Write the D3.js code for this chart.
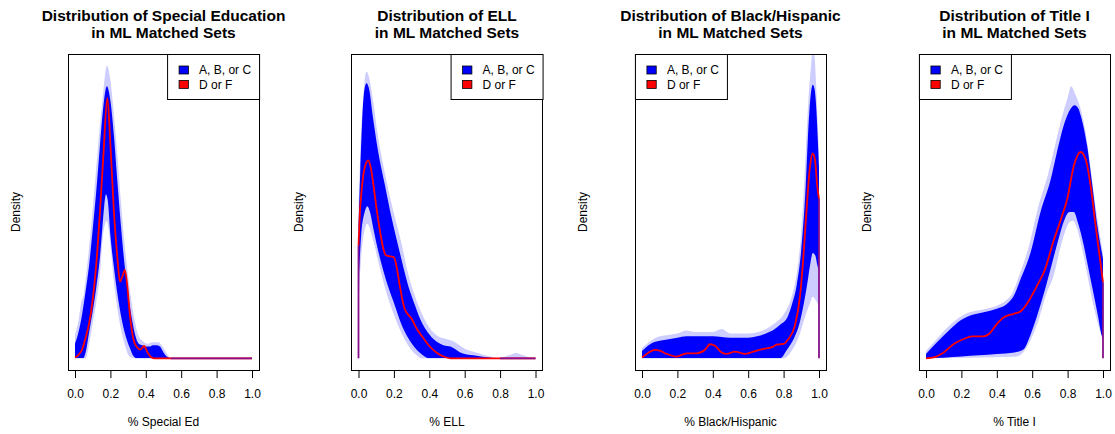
<!doctype html>
<html>
<head>
<meta charset="utf-8">
<script src="https://cdn.jsdelivr.net/npm/d3@7"></script>
<style>
  body { margin: 0; background: #fff; }
  svg { display: block; font-family: "Liberation Sans", Arial, Helvetica, sans-serif; }
</style>
</head>
<body>
<script>
// density values are relative (fraction of the y range); y axis has no ticks
// each series is a list of [share, density]

// --- Special Education
var seHaloHi = [[0,0.08],[0.02,0.13],[0.035,0.19],[0.05,0.22],[0.06,0.27],[0.08,0.38],[0.10,0.51],[0.12,0.65],[0.14,0.79],[0.16,0.91],[0.18,1.0],[0.20,0.95],[0.22,0.83],[0.24,0.69],[0.26,0.53],[0.28,0.39],[0.30,0.28],[0.32,0.19],[0.34,0.12],[0.36,0.075],[0.38,0.06],[0.41,0.05],[0.44,0.055],[0.47,0.055],[0.50,0.035],[0.52,0.015],[0.55,0],[1,0]];
var seCoreHi = [[0,0.05],[0.02,0.09],[0.04,0.15],[0.06,0.23],[0.08,0.32],[0.10,0.44],[0.12,0.57],[0.14,0.72],[0.16,0.86],[0.18,0.93],[0.20,0.88],[0.22,0.76],[0.24,0.60],[0.26,0.45],[0.28,0.32],[0.30,0.22],[0.32,0.14],[0.34,0.08],[0.36,0.05],[0.38,0.045],[0.40,0.04],[0.42,0.04],[0.44,0.045],[0.46,0.045],[0.48,0.04],[0.50,0.02],[0.52,0.005],[0.54,0],[1,0]];
var seCoreLo = [[0,0],[0.045,0],[0.06,0.02],[0.08,0.09],[0.10,0.16],[0.12,0.24],[0.14,0.34],[0.155,0.45],[0.165,0.52],[0.175,0.56],[0.185,0.54],[0.20,0.42],[0.22,0.31],[0.25,0.18],[0.28,0.09],[0.31,0.035],[0.33,0.008],[0.35,0],[1,0]];
var seHaloLo = [[0,0],[0.06,0],[0.08,0.05],[0.10,0.12],[0.12,0.19],[0.14,0.28],[0.155,0.40],[0.17,0.46],[0.18,0.47],[0.19,0.44],[0.22,0.26],[0.25,0.13],[0.28,0.05],[0.31,0.005],[0.34,0],[1,0]];
var seRed = [[0,0.003],[0.02,0.012],[0.04,0.03],[0.06,0.07],[0.08,0.12],[0.10,0.20],[0.12,0.32],[0.14,0.49],[0.16,0.69],[0.183,0.89],[0.20,0.73],[0.22,0.50],[0.24,0.34],[0.254,0.262],[0.268,0.28],[0.282,0.302],[0.295,0.25],[0.31,0.15],[0.33,0.065],[0.35,0.038],[0.37,0.03],[0.39,0.042],[0.41,0.02],[0.43,0.004],[0.45,0],[1,0]];

// --- ELL
var ellHaloHi = [[0,0.50],[0.01,0.70],[0.025,0.88],[0.035,0.95],[0.045,0.98],[0.06,0.96],[0.08,0.89],[0.11,0.76],[0.15,0.63],[0.19,0.52],[0.24,0.40],[0.28,0.29],[0.32,0.21],[0.36,0.15],[0.40,0.105],[0.45,0.075],[0.50,0.065],[0.53,0.06],[0.60,0.033],[0.65,0.022],[0.70,0.013],[0.75,0.005],[0.80,0.002],[0.85,0.01],[0.89,0.018],[0.93,0.01],[0.97,0.002],[1,0]];
var ellCoreHi = [[0,0.45],[0.01,0.64],[0.02,0.80],[0.03,0.90],[0.045,0.94],[0.06,0.92],[0.08,0.83],[0.11,0.71],[0.15,0.59],[0.187,0.48],[0.234,0.36],[0.28,0.25],[0.32,0.18],[0.348,0.135],[0.405,0.078],[0.48,0.045],[0.52,0.04],[0.575,0.02],[0.65,0.01],[0.75,0.002],[0.8,0],[1,0]];
var ellCoreLo = [[0,0.25],[0.015,0.42],[0.035,0.50],[0.05,0.52],[0.065,0.50],[0.085,0.44],[0.11,0.37],[0.14,0.30],[0.17,0.24],[0.20,0.19],[0.24,0.12],[0.28,0.07],[0.32,0.035],[0.36,0.012],[0.40,0],[1,0]];
var ellHaloLo = [[0,0.18],[0.02,0.38],[0.05,0.46],[0.08,0.41],[0.12,0.31],[0.16,0.22],[0.20,0.15],[0.24,0.09],[0.28,0.045],[0.32,0.015],[0.36,0],[1,0]];
var ellRed = [[0,0.385],[0.008,0.50],[0.017,0.57],[0.036,0.655],[0.055,0.676],[0.07,0.65],[0.085,0.59],[0.10,0.52],[0.12,0.44],[0.14,0.375],[0.155,0.352],[0.18,0.348],[0.20,0.345],[0.216,0.31],[0.234,0.245],[0.26,0.17],[0.30,0.135],[0.33,0.10],[0.365,0.07],[0.40,0.042],[0.44,0.02],[0.48,0.006],[0.52,0],[1,0]];

// --- Black/Hispanic
var bhHaloHi = [[0,0.035],[0.05,0.06],[0.10,0.075],[0.15,0.08],[0.20,0.085],[0.25,0.095],[0.30,0.09],[0.40,0.09],[0.45,0.10],[0.50,0.085],[0.60,0.085],[0.70,0.10],[0.75,0.12],[0.80,0.15],[0.85,0.22],[0.874,0.29],[0.898,0.42],[0.92,0.64],[0.94,0.88],[0.955,1.0],[0.965,1.06],[0.975,1.03],[0.985,0.92],[0.993,0.80],[1,0.70]];
var bhCoreHi = [[0,0.025],[0.05,0.05],[0.10,0.06],[0.15,0.065],[0.20,0.07],[0.25,0.075],[0.30,0.075],[0.40,0.075],[0.50,0.07],[0.60,0.07],[0.65,0.075],[0.70,0.085],[0.75,0.10],[0.78,0.115],[0.817,0.135],[0.845,0.18],[0.874,0.25],[0.898,0.36],[0.925,0.59],[0.943,0.82],[0.955,0.91],[0.965,0.935],[0.975,0.92],[0.985,0.85],[0.993,0.75],[1,0.65]];
var bhCoreLo = [[0,0],[0.78,0],[0.82,0.03],[0.86,0.07],[0.89,0.12],[0.915,0.19],[0.935,0.26],[0.95,0.32],[0.965,0.36],[0.98,0.35],[0.99,0.32],[1,0.30]];
var bhHaloLo = [[0,0],[0.80,0],[0.85,0.03],[0.89,0.08],[0.92,0.14],[0.95,0.19],[0.965,0.21],[0.98,0.20],[1,0.18]];
var bhRed = [[0,0.003],[0.035,0.018],[0.073,0.029],[0.10,0.026],[0.14,0.015],[0.196,0.006],[0.252,0.017],[0.309,0.017],[0.356,0.029],[0.384,0.048],[0.412,0.043],[0.45,0.02],[0.478,0.015],[0.525,0.023],[0.582,0.015],[0.629,0.023],[0.686,0.032],[0.742,0.04],[0.76,0.047],[0.80,0.049],[0.827,0.066],[0.864,0.112],[0.893,0.214],[0.911,0.34],[0.93,0.51],[0.949,0.655],[0.964,0.70],[0.977,0.68],[0.99,0.59],[1,0.545]];

// --- Title I
var tiHaloHi = [[0,0.025],[0.06,0.065],[0.13,0.11],[0.19,0.14],[0.25,0.158],[0.33,0.168],[0.40,0.18],[0.45,0.197],[0.49,0.225],[0.525,0.28],[0.58,0.38],[0.635,0.52],[0.69,0.63],[0.73,0.73],[0.77,0.83],[0.80,0.89],[0.82,0.93],[0.845,0.90],[0.87,0.86],[0.90,0.78],[0.93,0.65],[0.96,0.51],[1,0.36]];
var tiCoreHi = [[0,0.015],[0.062,0.055],[0.138,0.10],[0.194,0.129],[0.25,0.146],[0.326,0.157],[0.40,0.169],[0.458,0.186],[0.496,0.214],[0.534,0.27],[0.59,0.36],[0.647,0.50],[0.704,0.61],[0.74,0.705],[0.78,0.80],[0.817,0.853],[0.84,0.865],[0.86,0.855],[0.874,0.83],[0.91,0.727],[0.94,0.59],[0.968,0.454],[1,0.34]];
var tiCoreLo = [[0,0],[0.10,0.002],[0.20,0.006],[0.30,0.01],[0.40,0.015],[0.50,0.02],[0.55,0.03],[0.59,0.08],[0.63,0.15],[0.67,0.23],[0.71,0.32],[0.75,0.41],[0.78,0.47],[0.81,0.50],[0.835,0.50],[0.86,0.46],[0.89,0.39],[0.91,0.33],[0.94,0.24],[0.97,0.15],[0.994,0.075],[1,0.066]];
var tiHaloLo = [[0,0],[0.50,0.005],[0.54,0.015],[0.58,0.05],[0.63,0.12],[0.68,0.22],[0.72,0.28],[0.76,0.38],[0.79,0.44],[0.81,0.465],[0.83,0.47],[0.85,0.45],[0.88,0.38],[0.91,0.29],[0.95,0.17],[0.98,0.10],[1,0.06]];
var tiRed = [[0,0],[0.043,0.003],[0.10,0.02],[0.157,0.049],[0.213,0.066],[0.26,0.075],[0.326,0.075],[0.355,0.083],[0.40,0.117],[0.44,0.14],[0.496,0.152],[0.534,0.16],[0.57,0.186],[0.628,0.249],[0.67,0.30],[0.72,0.40],[0.765,0.48],[0.798,0.545],[0.836,0.66],[0.874,0.705],[0.902,0.68],[0.93,0.59],[0.958,0.454],[0.983,0.34],[1,0.26]];

var titles = ["Special Education", "ELL", "Black/Hispanic", "Title I"];
var xLabels = ["% Special Ed", "% ELL", "% Black/Hispanic", "% Title I"];
var legendLabels = ["A, B, or C", "D or F"];
var legendColors = ["#0000ff", "#ff0000"];
var legendSide = ["right", "right", "left", "left"];
var xTicks = [0, 0.2, 0.4, 0.6, 0.8, 1.0];

var panels = [
  { haloHi: seHaloHi, core: seCoreHi, coreLo: seCoreLo, haloLo: seHaloLo, red: seRed },
  { haloHi: ellHaloHi, core: ellCoreHi, coreLo: ellCoreLo, haloLo: ellHaloLo, red: ellRed },
  { haloHi: bhHaloHi, core: bhCoreHi, coreLo: bhCoreLo, haloLo: bhHaloLo, red: bhRed },
  { haloHi: tiHaloHi, core: tiCoreHi, coreLo: tiCoreLo, haloLo: tiHaloLo, red: tiRed }
];

var w = 1115, h = 434;
var panelX = [75, 358.5, 642, 926];   // pixel of x = 0 in each panel
var span = 177;                        // pixels from 0 to 1
var boxTop = 54, boxBottom = 370;
var blue = "#0000ff", faint = "#cdcdff", purple = "#86108a";

var svg = d3.select("body").append("svg")
  .attr("width", w)
  .attr("height", h);

panels.forEach(function(p, i) {
  var x0 = panelX[i];
  var x = d3.scaleLinear().domain([-0.04, 1.04]).range([x0 - 0.04 * span, x0 + 1.04 * span]);
  var y = d3.scaleLinear().domain([-0.04, 1.04]).range([boxBottom, boxTop]);
  var left = x(-0.04), right = x(1.04), mid = x(0.5);

  var g = svg.append("g");

  svg.append("clipPath").attr("id", "clip" + i)
    .append("rect")
    .attr("x", left).attr("y", boxTop)
    .attr("width", right - left).attr("height", boxBottom - boxTop);

  var plot = g.append("g").attr("clip-path", "url(#clip" + i + ")");

  function area(base) {
    return d3.area()
      .x(function(d) { return x(d[0]); })
      .y0(y(0) + base)
      .y1(function(d) { return y(d[1]); })
      .curve(d3.curveMonotoneX);
  }
  var line = d3.line()
    .x(function(d) { return x(d[0]); })
    .y(function(d) { return y(d[1]); })
    .curve(d3.curveMonotoneX);

  // band of matched-set curves: faint outer spread, dense core, empty inside
  plot.append("path").datum(p.haloHi).attr("d", area(0.5)).attr("fill", faint);
  plot.append("path").datum(p.core).attr("d", area(0.5)).attr("fill", blue);
  plot.append("path").datum(p.coreLo).attr("d", area(0.5)).attr("fill", faint);
  plot.append("path").datum(p.haloLo).attr("d", area(2)).attr("fill", "#fff");

  plot.append("path").datum(p.red).attr("d", line)
    .attr("fill", "none")
    .attr("stroke", "#ff0000")
    .attr("stroke-width", 1.8)
    .attr("stroke-linejoin", "round");

  // where red and blue curves lie on top of each other (bounds and zero line)
  var edges = [];
  var r = p.red;
  if (r[0][1] > 0.01) edges.push([[0, 0], [0, r[0][1]]]);
  if (r[r.length - 1][1] > 0.01) edges.push([[1, 0], [1, r[r.length - 1][1]]]);
  var k = p.core.length - 1;
  while (k > 0 && p.core[k - 1][1] === 0) k--;
  if (p.core[k][1] === 0 && p.core[k][0] < 1) edges.push([[p.core[k][0], 0], [1, 0]]);

  plot.selectAll(".edge").data(edges).enter().append("path")
    .attr("class", "edge")
    .attr("d", d3.line().x(function(d) { return x(d[0]); }).y(function(d) { return y(d[1]); }))
    .attr("fill", "none")
    .attr("stroke", purple)
    .attr("stroke-width", 1.8);

  // frame
  g.append("rect")
    .attr("x", Math.round(left) + 0.5).attr("y", boxTop + 0.5)
    .attr("width", Math.round(right - left)).attr("height", boxBottom - boxTop)
    .attr("fill", "none").attr("stroke", "#000").attr("stroke-width", 1);

  // x axis
  var axis = d3.axisBottom(x)
    .tickValues(xTicks)
    .tickFormat(d3.format(".1f"))
    .tickSize(7.5)
    .tickSizeOuter(0)
    .tickPadding(11.3);
  var ag = g.append("g")
    .attr("transform", "translate(0," + (boxBottom + 0.5) + ")")
    .call(axis)
    .attr("font-family", null)
    .attr("font-size", 12);
  ag.select(".domain").remove();
  ag.selectAll("line").attr("stroke", "#000");
  ag.selectAll("text").attr("fill", "#000");

  // titles and labels
  var title = g.append("text")
    .attr("text-anchor", "middle")
    .attr("font-weight", "bold")
    .attr("font-size", 15.5)
    .attr("fill", "#000");
  title.append("tspan").attr("x", mid).attr("y", 21).text("Distribution of " + titles[i]);
  title.append("tspan").attr("x", mid).attr("y", 37.7).text("in ML Matched Sets");

  g.append("text")
    .attr("x", mid).attr("y", 426)
    .attr("text-anchor", "middle")
    .attr("font-size", 12)
    .text(xLabels[i]);

  g.append("text")
    .attr("transform", "translate(" + (left - 48.4) + "," + ((boxTop + boxBottom) / 2) + ") rotate(-90)")
    .attr("text-anchor", "middle")
    .attr("font-size", 12)
    .text("Density");

  // legend
  var lw = 92, lh = 45;
  var lx = legendSide[i] === "right" ? right - lw : left;
  var lg = g.append("g").attr("transform", "translate(" + lx + "," + boxTop + ")");
  lg.append("rect")
    .attr("x", 0.5).attr("y", 0.5)
    .attr("width", lw).attr("height", lh)
    .attr("fill", "#fff").attr("stroke", "#000").attr("stroke-width", 1);
  var rows = lg.selectAll(".row").data(legendLabels).enter().append("g")
    .attr("class", "row")
    .attr("transform", function(d, j) { return "translate(0," + (16 + j * 14.4) + ")"; });
  rows.append("rect")
    .attr("x", 12).attr("y", -4)
    .attr("width", 9.3).attr("height", 8)
    .attr("fill", function(d, j) { return legendColors[j]; })
    .attr("stroke", "#000").attr("stroke-width", 0.8);
  rows.append("text")
    .attr("x", 32).attr("y", 4.3)
    .attr("font-size", 12)
    .text(function(d) { return d; });
});
</script>
</body>
</html>
